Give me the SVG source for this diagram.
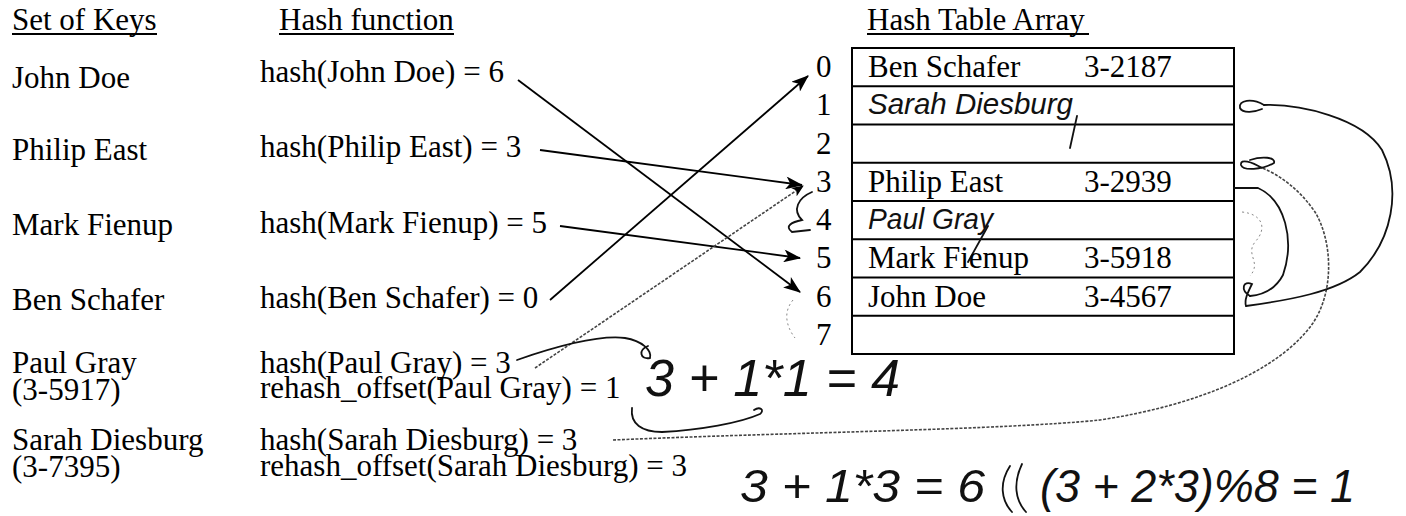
<svg xmlns="http://www.w3.org/2000/svg" width="1406" height="516" viewBox="0 0 1406 516">
<defs>
<style>
.t{font-family:"Liberation Serif","Times New Roman",serif;font-size:31px;fill:#000}
.h{font-family:"Liberation Sans",Arial,sans-serif;font-style:italic;fill:#111}
.ln{stroke:#000;stroke-width:1.8;fill:none}
.hw{stroke:#111;stroke-width:1.8;fill:none;stroke-linecap:round}
.pen{stroke:#444;stroke-width:1.6;fill:none;stroke-dasharray:3 1.5}
.faint{stroke:#888;stroke-width:1;fill:none;stroke-dasharray:2 3}
.grid{stroke:#000;stroke-width:2;fill:none}
</style>
<marker id="ah" viewBox="0 0 12 10" refX="11" refY="5" markerWidth="12" markerHeight="10" markerUnits="userSpaceOnUse" orient="auto">
<path d="M0,0 L12,5 L0,10 L3,5 z" fill="#000"/>
</marker>
<marker id="ahs" viewBox="0 0 16 12" refX="15" refY="6" markerWidth="18" markerHeight="13" markerUnits="userSpaceOnUse" orient="auto">
<path d="M0,0 L16,6 L0,12 L4,6 z" fill="#000"/>
</marker>
</defs>
<rect width="1406" height="516" fill="#fff"/>

<g id="headers">
<text class="t" x="12" y="30">Set of Keys</text>
<line class="ln" x1="12" y1="34" x2="157" y2="34"/>
<text class="t" x="279" y="30">Hash function</text>
<line class="ln" x1="279" y1="34" x2="454" y2="34"/>
<text class="t" x="867" y="30">Hash Table Array</text>
<line class="ln" x1="867" y1="34" x2="1089" y2="34"/>
</g>

<g id="keys">
<text class="t" x="12" y="88">John Doe</text>
<text class="t" x="12" y="160">Philip East</text>
<text class="t" x="12" y="235">Mark Fienup</text>
<text class="t" x="12" y="310">Ben Schafer</text>
<text class="t" x="12" y="373">Paul Gray</text>
<text class="t" x="12" y="400">(3-5917)</text>
<text class="t" x="12" y="450">Sarah Diesburg</text>
<text class="t" x="12" y="477">(3-7395)</text>
</g>

<g id="hashes">
<text class="t" x="260" y="82">hash(John Doe) = 6</text>
<text class="t" x="260" y="157">hash(Philip East) = 3</text>
<text class="t" x="260" y="233">hash(Mark Fienup) = 5</text>
<text class="t" x="260" y="308">hash(Ben Schafer) = 0</text>
<text class="t" x="260" y="373">hash(Paul Gray) = 3</text>
<text class="t" x="260" y="398">rehash_offset(Paul Gray) = 1</text>
<text class="t" x="260" y="450">hash(Sarah Diesburg) = 3</text>
<text class="t" x="260" y="476">rehash_offset(Sarah Diesburg) = 3</text>
</g>

<g id="table">
<rect class="grid" x="852" y="48" width="382" height="306"/>
<line class="grid" x1="852" y1="86.25" x2="1234" y2="86.25"/>
<line class="grid" x1="852" y1="124.5" x2="1234" y2="124.5"/>
<line class="grid" x1="852" y1="162.75" x2="1234" y2="162.75"/>
<line class="grid" x1="852" y1="201" x2="1234" y2="201"/>
<line class="grid" x1="852" y1="239.25" x2="1234" y2="239.25"/>
<line class="grid" x1="852" y1="277.5" x2="1234" y2="277.5"/>
<line class="grid" x1="852" y1="315.75" x2="1234" y2="315.75"/>
<g id="indices">
<text class="t" x="816" y="77">0</text>
<text class="t" x="816" y="115">1</text>
<text class="t" x="816" y="154">2</text>
<text class="t" x="816" y="192">3</text>
<text class="t" x="816" y="230">4</text>
<text class="t" x="816" y="268">5</text>
<text class="t" x="816" y="307">6</text>
<text class="t" x="816" y="345">7</text>
</g>
<g id="row0"><text class="t" x="868" y="77">Ben Schafer</text><text class="t" x="1084" y="77">3-2187</text></g>
<g id="row1"><text class="h" x="868" y="114" font-size="29" textLength="205" lengthAdjust="spacingAndGlyphs">Sarah Diesburg</text><path class="hw" d="M1077,116 L1070,148"/></g>
<g id="row3"><text class="t" x="868" y="192">Philip East</text><text class="t" x="1084" y="192">3-2939</text></g>
<g id="row4"><text class="h" x="868" y="229" font-size="29" textLength="125" lengthAdjust="spacingAndGlyphs">Paul Gray</text><path class="hw" d="M988,226 L968,262"/></g>
<g id="row5"><text class="t" x="868" y="268">Mark Fienup</text><text class="t" x="1084" y="268">3-5918</text></g>
<g id="row6"><text class="t" x="868" y="307">John Doe</text><text class="t" x="1084" y="307">3-4567</text></g>
</g>

<g id="notes">
<text class="h" x="645" y="396" font-size="52" textLength="255" lengthAdjust="spacingAndGlyphs">3 + 1*1  = 4</text>
<text class="h" x="740" y="502" font-size="46" textLength="245" lengthAdjust="spacingAndGlyphs">3 + 1*3 = 6</text>
<path class="hw" d="M1010,466 C999,483 1001,500 1012,512 M1022,464 C1013,483 1015,500 1026,512"/>
<text class="h" x="1040" y="502" font-size="46" textLength="315" lengthAdjust="spacingAndGlyphs">(3 + 2*3)%8 = 1</text>
</g>

<g id="connectors">
<line class="ln" x1="518" y1="80" x2="800" y2="292" marker-end="url(#ahs)"/>
<line class="ln" x1="540" y1="150" x2="802" y2="185" marker-end="url(#ahs)"/>
<line class="ln" x1="560" y1="226" x2="800" y2="258" marker-end="url(#ahs)"/>
<line class="ln" x1="550" y1="300" x2="808" y2="76" marker-end="url(#ahs)"/>
<line class="pen" x1="535" y1="368" x2="803" y2="186" marker-end="url(#ah)"/>
<path class="hw" d="M812,192 C798,198 792,210 802,220 C792,222 784,226 792,232 L810,230"/>
<path class="faint" d="M793,300 C783,312 786,326 795,338"/>
<path class="hw" d="M517,360 C560,345 600,335 625,338 C642,341 652,350 650,358 C640,360 638,350 648,346"/>
<path class="hw" d="M632,408 C630,424 642,432 662,432 C700,430 740,423 760,414 C765,410 760,406 754,410"/>
<path class="pen" d="M613,440 C800,432 1000,430 1100,420 C1200,405 1280,370 1313,323 C1335,290 1332,240 1315,212 C1300,190 1280,175 1262,168"/>
<path class="hw" d="M1262,168 C1252,162 1240,158 1241,165 C1243,171 1262,170 1274,163 C1276,157 1262,156 1250,160"/>
<path class="hw" d="M1234,188 L1258,188 C1285,200 1295,240 1283,275 C1275,290 1262,295 1250,296"/>
<path class="hw" d="M1250,296 C1240,290 1243,280 1252,284 C1248,292 1244,300 1246,306"/>
<path class="hw" d="M1246,306 C1290,300 1335,292 1360,272 C1392,240 1402,190 1382,150 C1362,118 1300,104 1264,105"/>
<path class="hw" d="M1264,105 C1252,98 1238,100 1240,108 C1243,114 1255,112 1262,109"/>
<path class="faint" d="M1242,212 C1262,214 1268,228 1255,242 C1245,255 1262,262 1250,276"/>
</g>
</svg>
